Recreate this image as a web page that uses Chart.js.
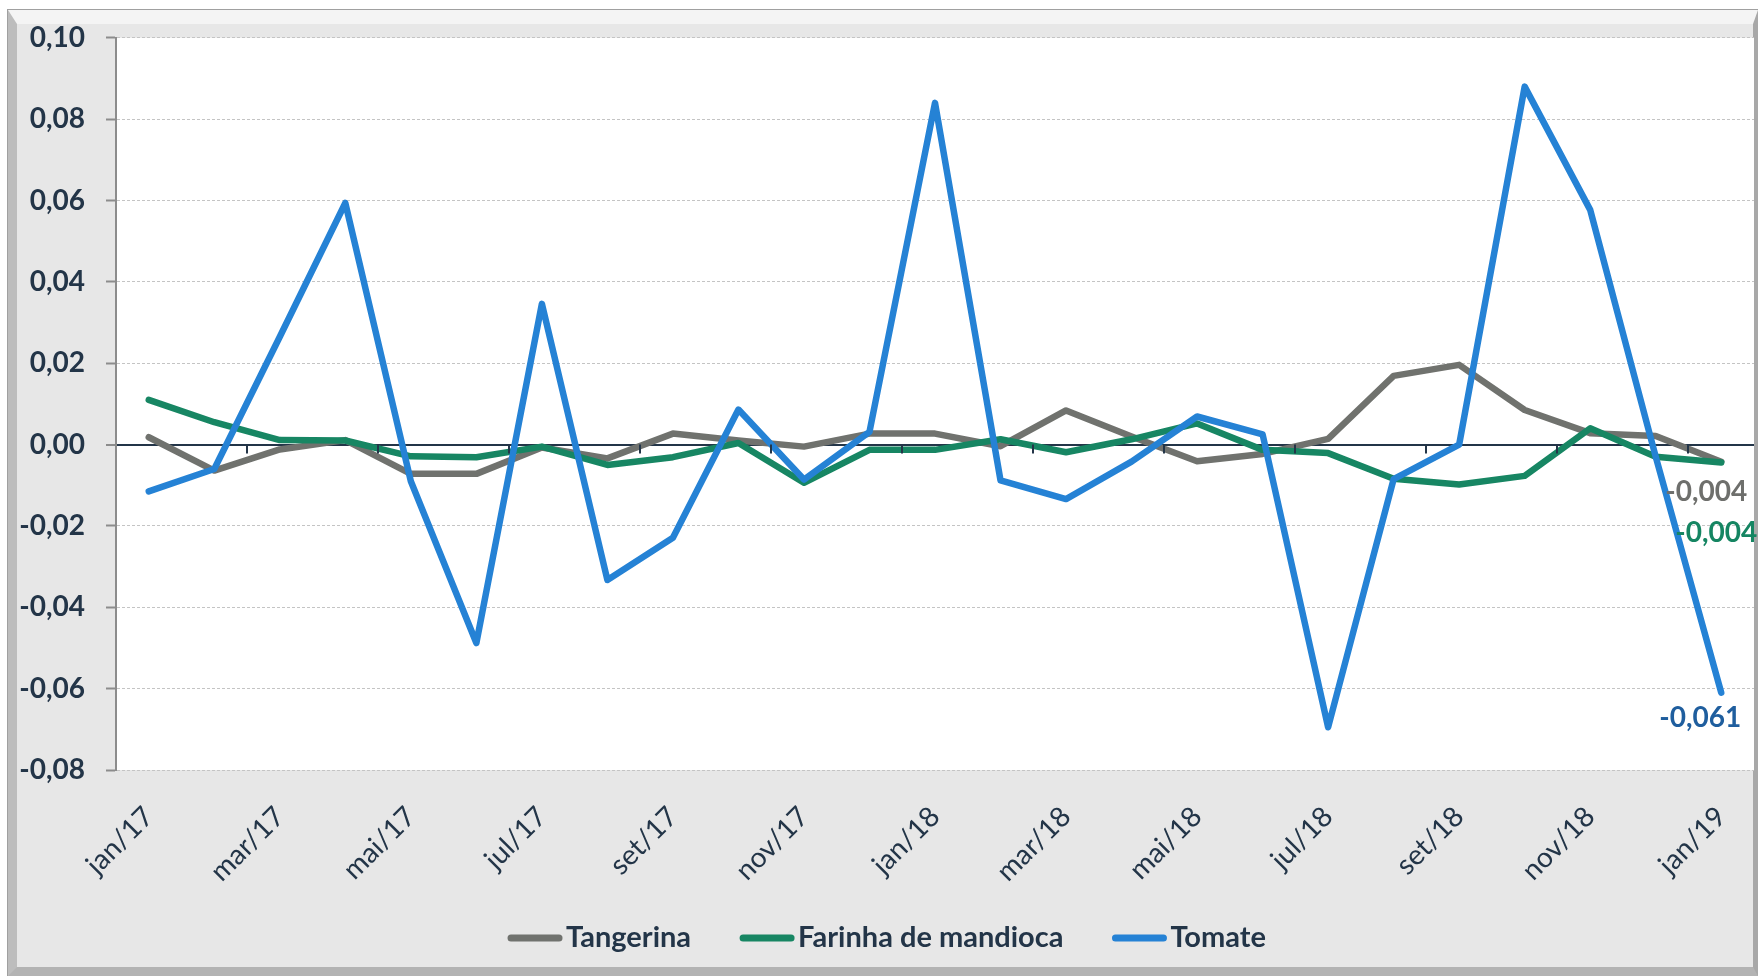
<!DOCTYPE html>
<html>
  <head>
    <script src="https://cdn.jsdelivr.net/npm/chart.js@4.4.1/dist/chart.umd.min.js"></script>
    <style>
      body { margin: 0; background: #fff; }
      #frame {
        position: absolute; left: 8px; top: 10px; width: 1750px; height: 966px;
        box-sizing: border-box; background: #e7e7e7;
        border-top: 14px solid #f4f4f4; border-left: 9px solid #bdbdbd;
        border-right: 5px solid #a8a8a8; border-bottom: 9px solid #b3b3b3;
        outline: 1px solid #a0a0a0;
      }
      #canvas { position: absolute; left: 0; top: 0; }
    </style>
  </head>

  <body>
    <div id="frame"></div>
    <canvas id="canvas" width="1758" height="976"></canvas>
    <script>
      const months = ['jan/17', 'fev/17', 'mar/17', 'abr/17', 'mai/17', 'jun/17', 'jul/17', 'ago/17', 'set/17',
        'out/17', 'nov/17', 'dez/17', 'jan/18', 'fev/18', 'mar/18', 'abr/18', 'mai/18', 'jun/18', 'jul/18',
        'ago/18', 'set/18', 'out/18', 'nov/18', 'dez/18', 'jan/19'];

      const tangerina = [0.0018, -0.0064, -0.0012, 0.0011, -0.0072, -0.0072, -0.0007, -0.0034, 0.0027, 0.0010,
        -0.0005, 0.0027, 0.0027, -0.0004, 0.0084, 0.0020, -0.0041, -0.0023, 0.0014, 0.0169, 0.0196, 0.0085,
        0.0028, 0.0021, -0.0042];
      const farinha = [0.0110, 0.0055, 0.0011, 0.0010, -0.0029, -0.0031, -0.0005, -0.0050, -0.0031, 0.0004,
        -0.0094, -0.0013, -0.0013, 0.0013, -0.0019, 0.0013, 0.0052, -0.0013, -0.0021, -0.0084, -0.0098, -0.0077,
        0.0040, -0.0030, -0.0044];
      const tomate = [-0.0115, -0.0060, 0.0265, 0.0594, -0.0090, -0.0488, 0.0346, -0.0333, -0.0229, 0.0086,
        -0.0086, 0.0031, 0.0840, -0.0088, -0.0134, -0.0042, 0.0069, 0.0025, -0.0695, -0.0085, 0.0000, 0.0880,
        0.0577, -0.0030, -0.0610];

      const yMin = -0.08, yMax = 0.10, yStep = 0.02;

      const ink = '#233548';
      const fmt = (v, d) => (Math.abs(v) < 1e-9 ? 0 : v).toFixed(d).replace('.', ',');

      // white plot area
      const plotBg = {
        id: 'plotBg',
        beforeDraw(chart) {
          const { ctx, chartArea: a } = chart;
          ctx.save();
          ctx.fillStyle = '#fff';
          ctx.fillRect(a.left, a.top, a.right - a.left, a.bottom - a.top);
          ctx.restore();
        },
      };

      // excel-like tick marks on the zero line, every 2 months
      const zeroTicks = {
        id: 'zeroTicks',
        afterDatasetsDraw(chart) {
          const { ctx, scales: { x, y } } = chart;
          const half = (x.getPixelForValue(1) - x.getPixelForValue(0)) / 2;
          const y0 = y.getPixelForValue(0);
          ctx.save();
          ctx.strokeStyle = ink;
          ctx.lineWidth = 2;
          for (let i = 2; i < months.length; i += 2) {
            const px = Math.round(x.getPixelForValue(i) - half);
            ctx.beginPath();
            ctx.moveTo(px, y0);
            ctx.lineTo(px, y0 + 9);
            ctx.stroke();
          }
          ctx.restore();
        },
      };

      // value labels at the last point
      const endLabels = {
        id: 'endLabels',
        afterDatasetsDraw(chart) {
          const { ctx } = chart;
          const offs = [[-15, 30], [-5, 70], [-21, 25]];
          ctx.save();
          ctx.font = 'bold 28px Lato';
          ctx.textAlign = 'center';
          ctx.textBaseline = 'middle';
          chart.data.datasets.forEach((ds, i) => {
            const pt = chart.getDatasetMeta(i).data[ds.data.length - 1];
            ctx.fillStyle = ds.labelColor;
            ctx.fillText(fmt(ds.data[ds.data.length - 1], 3), pt.x + offs[i][0], pt.y + offs[i][1]);
          });
          ctx.restore();
        },
      };

      // legend with line swatches right next to the text
      const lineLegend = {
        id: 'lineLegend',
        afterDraw(chart) {
          const { ctx } = chart;
          const sw = 54, gap = 4, space = 49, cy = 938;
          ctx.save();
          ctx.font = 'bold 29px Lato';
          ctx.textBaseline = 'middle';
          const items = chart.data.datasets.map((ds) => ({ ds, w: sw + gap + ctx.measureText(ds.label).width }));
          const total = items.reduce((s, it) => s + it.w, 0) + space * (items.length - 1);
          let x = 887 - total / 2;
          items.forEach(({ ds, w }) => {
            ctx.strokeStyle = ds.borderColor;
            ctx.lineWidth = 7;
            ctx.lineCap = 'round';
            ctx.beginPath();
            ctx.moveTo(x + 3, cy);
            ctx.lineTo(x + sw - 3, cy);
            ctx.stroke();
            ctx.fillStyle = ink;
            ctx.fillText(ds.label, x + sw + gap, cy);
            x += w + space;
          });
          ctx.restore();
        },
      };

      Chart.defaults.font.family = 'Lato';
      Chart.defaults.color = ink;

      const line = { borderWidth: 6.5, pointRadius: 0, tension: 0, borderJoinStyle: 'round', borderCapStyle: 'round' };

      new Chart(document.getElementById('canvas').getContext('2d'), {
        type: 'line',
        data: {
          labels: months,
          datasets: [
            { label: 'Tangerina', data: tangerina, borderColor: '#70726e', labelColor: '#6e6f6c', order: 2, ...line },
            { label: 'Farinha de mandioca', data: farinha, borderColor: '#178663', labelColor: '#158562', order: 1, ...line },
            { label: 'Tomate', data: tomate, borderColor: '#2582d5', labelColor: '#1f5e9e', order: 0, ...line },
          ],
        },
        options: {
          responsive: false,
          devicePixelRatio: 1,
          animation: false,
          layout: { padding: { left: 16, top: 36, right: 4, bottom: 0 } },
          plugins: { legend: { display: false }, tooltip: { enabled: false } },
          scales: {
            x: {
              offset: true,
              grid: { display: false, drawTicks: false },
              border: { display: false },
              ticks: {
                autoSkip: false,
                minRotation: 45,
                maxRotation: 45,
                padding: 30,
                font: { size: 28 },
                callback: (v, i) => (i % 2 ? '' : months[i]),
              },
              afterFit: (s) => { s.height = 206; s.paddingLeft = 0; s.paddingRight = 0; },
            },
            y: {
              min: yMin,
              max: yMax,
              ticks: {
                stepSize: yStep,
                padding: 21,
                font: { size: 28, weight: 'bold' },
                callback: (v) => fmt(v, 2),
              },
              grid: {
                color: (c) => (Math.abs(c.tick.value) < 1e-9 ? ink : '#c4c4c4'),
                lineWidth: (c) => (Math.abs(c.tick.value) < 1e-9 ? 2 : 1),
                tickColor: '#8c8c8c',
                tickLength: 10,
                tickWidth: 2,
              },
              border: {
                display: true,
                color: '#8c8c8c',
                width: 2,
                dash: (c) => (c.tick && Math.abs(c.tick.value) < 1e-9 ? [] : [3, 2]),
              },
              afterFit: (s) => { s.width = 100; },
            },
          },
        },
        plugins: [plotBg, zeroTicks, endLabels, lineLegend],
      });
    </script>
  </body>
</html>
